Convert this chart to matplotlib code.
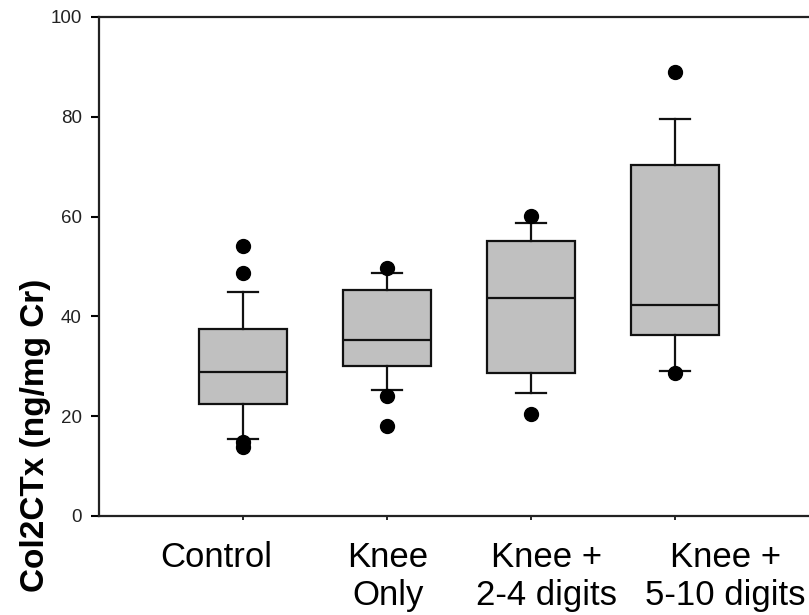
import matplotlib
matplotlib.use("Agg")
import matplotlib.pyplot as plt
import matplotlib.transforms as mtransforms

categories = ["Control", "Knee\nOnly", "Knee +\n2-4 digits", "Knee +\n5-10 digits"]
q1 = [22.5, 30.0, 28.7, 36.3]
med = [28.8, 35.2, 43.7, 42.3]
q3 = [37.4, 45.2, 55.1, 70.4]
whislo = [15.4, 25.2, 24.7, 29.1]
whishi = [44.8, 48.6, 58.7, 79.5]
fliers = [[54.1, 48.7, 14.8, 13.8], [49.6, 24.0, 18.0], [60.1, 20.4], [88.9, 28.7]]
yticks = [0, 20, 40, 60, 80, 100]

plt.rcParams['font.family'] = ['Liberation Sans', 'DejaVu Sans']

fig = plt.figure(figsize=(8.09, 6.15), dpi=100)
ax = fig.add_axes([0.1224, 0.161, 0.8976, 0.8114])

stats = []
for i in range(len(categories)):
    stats.append(dict(q1=q1[i], med=med[i], q3=q3[i], whislo=whislo[i],
                      whishi=whishi[i], fliers=fliers[i], label=categories[i]))

positions = list(range(1, len(categories) + 1))
ax.bxp(stats, positions=positions, widths=0.61, capwidths=0.21,
       patch_artist=True, showfliers=True,
       boxprops=dict(facecolor='#c0c0c0', edgecolor='#111111', linewidth=1.6),
       medianprops=dict(color='#111111', linewidth=1.6),
       whiskerprops=dict(color='#111111', linewidth=1.6),
       capprops=dict(color='#111111', linewidth=1.6),
       flierprops=dict(marker='o', markerfacecolor='black', markeredgecolor='black',
                       markersize=10, linestyle='none'))

ax.set_xlim(0, 5.04)
ax.set_ylim(0, 100)
ax.set_yticks(yticks)
ax.set_yticklabels([str(v) for v in yticks], fontsize=13.5, color='#222222')
ax.set_xticks(positions)
ax.set_xticklabels(categories, fontsize=25, color='black', linespacing=1.18, va='top')
ax.tick_params(axis='y', direction='out', length=5.5, width=1.5, pad=7)
ax.tick_params(axis='x', direction='out', length=3, width=1.2, pad=15)

# the reference labels sit slightly off their ticks
label_dx_px = [-27, 1, 15, 50]
for lab, dx in zip(ax.get_xticklabels(), label_dx_px):
    lab.set_transform(lab.get_transform() +
                      mtransforms.ScaledTranslation(dx / 100.0, 0, fig.dpi_scale_trans))

for side in ['left', 'bottom', 'top']:
    ax.spines[side].set_linewidth(1.6)
    ax.spines[side].set_color('#222222')
ax.spines['right'].set_visible(False)

ax.set_ylabel("Col2CTx (ng/mg Cr)", fontsize=24, fontweight='bold')
ax.yaxis.set_label_coords(-0.066, 0.162)

fig.savefig("out.png", dpi=100)
